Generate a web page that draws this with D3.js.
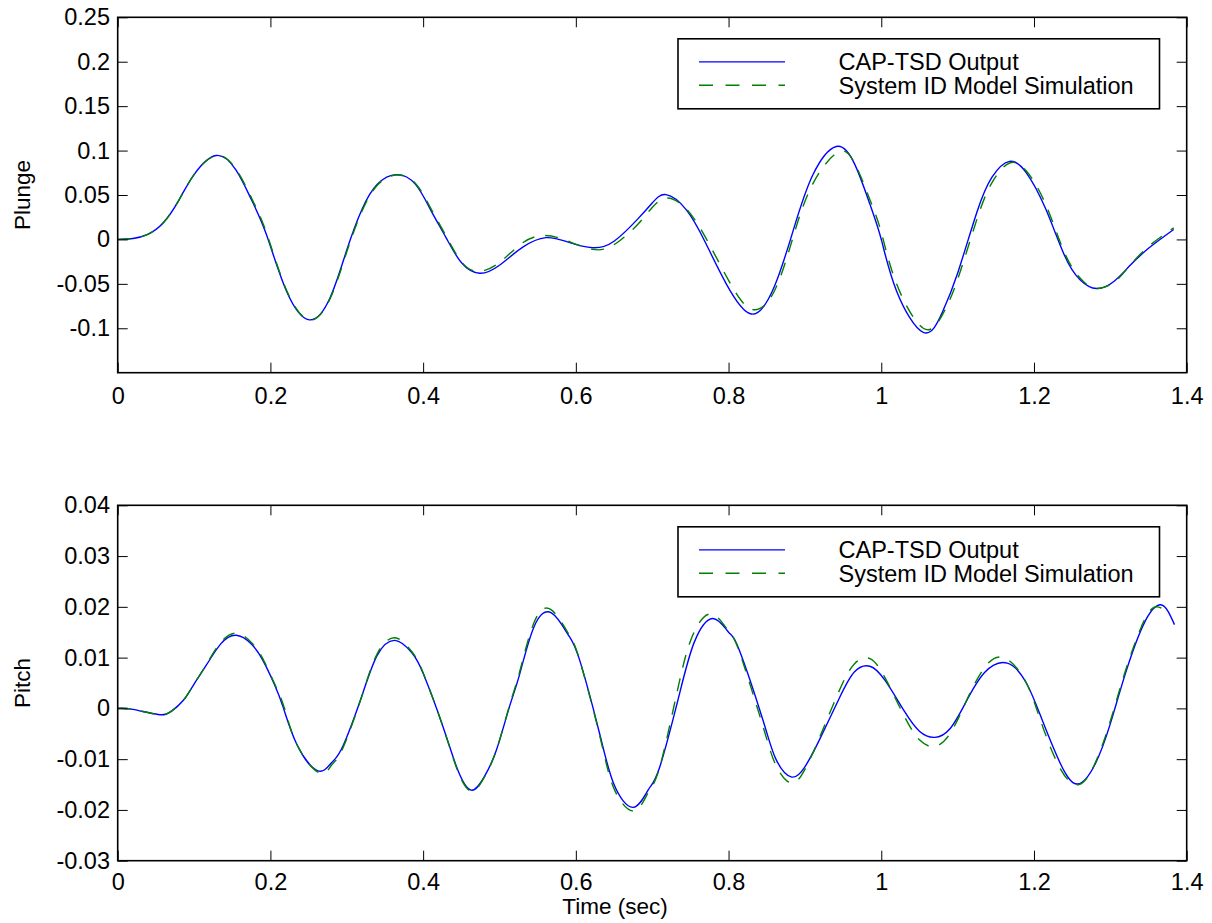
<!DOCTYPE html>
<html>
<head>
<meta charset="utf-8">
<script src="https://cdn.jsdelivr.net/npm/d3@7"></script>
<style>
  html, body { margin: 0; padding: 0; background: #fff; }
  svg { display: block; font-family: "Liberation Sans", Arial, Helvetica, sans-serif; }
</style>
</head>
<body>
<svg id="chart" width="1212" height="923"></svg>
<script>
// ---- Plunge response (time in sec, value) ----
const plungeCapTime = [0, 0.02, 0.04, 0.06, 0.08, 0.10, 0.129, 0.155, 0.175, 0.195, 0.221, 0.251, 0.278, 0.300, 0.320, 0.340, 0.365, 0.390, 0.410, 0.430, 0.450, 0.474, 0.500, 0.530, 0.561, 0.590, 0.622, 0.650, 0.680, 0.700, 0.718, 0.745, 0.770, 0.797, 0.830, 0.860, 0.885, 0.910, 0.941, 0.965, 0.985, 1.000, 1.020, 1.055, 1.080, 1.100, 1.125, 1.145, 1.168, 1.190, 1.215, 1.240, 1.260, 1.282, 1.305, 1.325, 1.350, 1.383];
const plungeCapValue = [0, 0.001, 0.006, 0.019, 0.044, 0.073, 0.0945, 0.078, 0.045, 0.005, -0.058, -0.0905, -0.066, -0.012, 0.034, 0.062, 0.0729, 0.062, 0.033, 0.002, -0.026, -0.038, -0.029, -0.009, 0.002, -0.003, -0.0093, -0.002, 0.022, 0.041, 0.0504, 0.033, -0.004, -0.050, -0.084, -0.053, 0.011, 0.072, 0.1046, 0.085, 0.040, 0.000, -0.058, -0.1046, -0.082, -0.038, 0.030, 0.070, 0.0878, 0.075, 0.035, -0.018, -0.045, -0.0553, -0.047, -0.030, -0.010, 0.0112];

const plungeSimTime = [0, 0.02, 0.04, 0.06, 0.08, 0.10, 0.129, 0.155, 0.175, 0.195, 0.221, 0.251, 0.278, 0.300, 0.320, 0.340, 0.365, 0.390, 0.410, 0.430, 0.450, 0.472, 0.500, 0.530, 0.560, 0.590, 0.622, 0.650, 0.680, 0.700, 0.720, 0.745, 0.770, 0.800, 0.830, 0.860, 0.885, 0.910, 0.943, 0.965, 0.985, 1.000, 1.020, 1.055, 1.080, 1.100, 1.125, 1.145, 1.168, 1.190, 1.215, 1.240, 1.260, 1.280, 1.305, 1.325, 1.350, 1.383];
const plungeSimValue = [0, 0.001, 0.006, 0.019, 0.044, 0.073, 0.0945, 0.079, 0.047, 0.007, -0.057, -0.0905, -0.067, -0.014, 0.032, 0.061, 0.0725, 0.063, 0.035, 0.004, -0.025, -0.036, -0.026, -0.004, 0.0045, -0.002, -0.0112, -0.006, 0.016, 0.036, 0.0467, 0.034, 0.002, -0.046, -0.0785, -0.058, 0.004, 0.062, 0.098, 0.086, 0.045, 0.008, -0.050, -0.100, -0.085, -0.045, 0.022, 0.064, 0.086, 0.077, 0.040, -0.015, -0.043, -0.055, -0.048, -0.030, -0.008, 0.013];

// ---- Pitch response (time in sec, value) ----
const pitchCapTime = [0, 0.02, 0.053, 0.07, 0.086, 0.10, 0.116, 0.135, 0.155, 0.175, 0.190, 0.205, 0.217, 0.235, 0.262, 0.280, 0.295, 0.321, 0.340, 0.363, 0.385, 0.400, 0.426, 0.445, 0.463, 0.480, 0.496, 0.513, 0.526, 0.545, 0.568, 0.590, 0.605, 0.631, 0.650, 0.675, 0.695, 0.710, 0.736, 0.755, 0.779, 0.800, 0.814, 0.845, 0.862, 0.882, 0.900, 0.919, 0.945, 0.965, 0.985, 1.005, 1.030, 1.050, 1.070, 1.090, 1.110, 1.135, 1.165, 1.190, 1.210, 1.235, 1.257, 1.280, 1.300, 1.320, 1.345, 1.365, 1.376, 1.384];
const pitchCapValue = [0, -0.0002, -0.0012, -0.0006, 0.0016, 0.0048, 0.0085, 0.0127, 0.0144, 0.0127, 0.0095, 0.0048, 0.0001, -0.0072, -0.0123, -0.0107, -0.0074, 0.0030, 0.0105, 0.0134, 0.0110, 0.0069, -0.0036, -0.0120, -0.0161, -0.0135, -0.0082, 0.0003, 0.0065, 0.0160, 0.0188, 0.0145, 0.0095, -0.0049, -0.0150, -0.0195, -0.0160, -0.0115, 0.0030, 0.0130, 0.0177, 0.0150, 0.0115, -0.0023, -0.0100, -0.0135, -0.0115, -0.0062, 0.0020, 0.0072, 0.0083, 0.0055, -0.0005, -0.0045, -0.0057, -0.0040, 0.0010, 0.0070, 0.0089, 0.0050, -0.0020, -0.0110, -0.0149, -0.0110, -0.0030, 0.0070, 0.0170, 0.0204, 0.0190, 0.0165];

const pitchSimTime = [0, 0.02, 0.053, 0.07, 0.086, 0.10, 0.116, 0.135, 0.156, 0.175, 0.190, 0.205, 0.218, 0.235, 0.264, 0.280, 0.295, 0.321, 0.340, 0.363, 0.385, 0.400, 0.426, 0.445, 0.463, 0.480, 0.496, 0.513, 0.526, 0.545, 0.567, 0.590, 0.605, 0.631, 0.650, 0.676, 0.695, 0.710, 0.733, 0.752, 0.777, 0.800, 0.814, 0.845, 0.862, 0.882, 0.900, 0.919, 0.945, 0.965, 0.985, 1.005, 1.030, 1.050, 1.070, 1.090, 1.110, 1.135, 1.162, 1.190, 1.210, 1.235, 1.259, 1.280, 1.300, 1.320, 1.345, 1.362, 1.376];
const pitchSimValue = [0, -0.0002, -0.0012, -0.0006, 0.0016, 0.0048, 0.0086, 0.0130, 0.0148, 0.0130, 0.0098, 0.0050, 0.0002, -0.0072, -0.0127, -0.0112, -0.0078, 0.0030, 0.0108, 0.0139, 0.0112, 0.0070, -0.0036, -0.0122, -0.0163, -0.0136, -0.0082, 0.0005, 0.0070, 0.0168, 0.0195, 0.0148, 0.0095, -0.0052, -0.0158, -0.0202, -0.0165, -0.0115, 0.0035, 0.0140, 0.0186, 0.0152, 0.0112, -0.0035, -0.0112, -0.0147, -0.0120, -0.0058, 0.0035, 0.0088, 0.0098, 0.0060, -0.0015, -0.0062, -0.0075, -0.0050, 0.0010, 0.0080, 0.0099, 0.0050, -0.0030, -0.0120, -0.0150, -0.0108, -0.0025, 0.0075, 0.0175, 0.0200, 0.0188];

// ---- Axis ticks and labels ----
const timeTicks = [0, 0.2, 0.4, 0.6, 0.8, 1, 1.2, 1.4];
const timeTickLabels = ["0", "0.2", "0.4", "0.6", "0.8", "1", "1.2", "1.4"];
const plungeTicks = [-0.1, -0.05, 0, 0.05, 0.1, 0.15, 0.2, 0.25];
const plungeTickLabels = ["-0.1", "-0.05", "0", "0.05", "0.1", "0.15", "0.2", "0.25"];
const pitchTicks = [-0.03, -0.02, -0.01, 0, 0.01, 0.02, 0.03, 0.04];
const pitchTickLabels = ["-0.03", "-0.02", "-0.01", "0", "0.01", "0.02", "0.03", "0.04"];
const seriesNames = ["CAP-TSD Output", "System ID Model Simulation"];

const svg = d3.select("#chart");
svg.append("rect").attr("width", 1212).attr("height", 923).attr("fill", "#fff");

const TICK_FONT = 23.5, LEGEND_FONT = 23.5, LABEL_FONT = 22.5;
const left = 117.7, right = 1186.7;

function zip(ts, vs) { return ts.map((t, i) => [t, vs[i]]); }

function panel(cfg) {
  const x = d3.scaleLinear().domain([0, 1.4]).range([left, right]);
  const y = d3.scaleLinear().domain(cfg.yDomain).range([cfg.bottom, cfg.top]);
  const g = svg.append("g");

  const line = d3.line()
    .x(d => x(d[0])).y(d => y(d[1]))
    .curve(d3.curveNatural);

  // measured response and identified-model simulation
  g.append("path").datum(zip(cfg.capT, cfg.capV))
    .attr("d", line).attr("fill", "none")
    .attr("stroke", "#0000ff").attr("stroke-width", 1.4);
  g.append("path").datum(zip(cfg.simT, cfg.simV))
    .attr("d", line).attr("fill", "none")
    .attr("stroke", "#008000").attr("stroke-width", 1.4)
    .attr("stroke-dasharray", "13,11");

  // axes with inward ticks on all four sides
  const axB = d3.axisBottom(x).tickValues(timeTicks)
    .tickFormat((d, i) => timeTickLabels[i]).tickSizeInner(-10).tickSizeOuter(0).tickPadding(cfg.xPad);
  const axT = d3.axisTop(x).tickValues(timeTicks).tickFormat("").tickSizeInner(-10).tickSizeOuter(0);
  const axL = d3.axisLeft(y).tickValues(cfg.yTicks)
    .tickFormat((d, i) => cfg.yLabels[i]).tickSizeInner(-10).tickSizeOuter(0).tickPadding(7.7);
  const axR = d3.axisRight(y).tickValues(cfg.yTicks).tickFormat("").tickSizeInner(-10).tickSizeOuter(0);

  const axes = [
    [axB, `translate(0,${cfg.bottom})`],
    [axT, `translate(0,${cfg.top})`],
    [axL, `translate(${left},0)`],
    [axR, `translate(${right},0)`]
  ];
  axes.forEach(([a, tr]) => {
    const ga = g.append("g").attr("transform", tr).call(a);
    ga.select(".domain").remove();
    ga.selectAll(".tick line").attr("stroke", "#000").attr("stroke-width", 1);
    ga.selectAll(".tick text").attr("fill", "#000")
      .style("font-size", TICK_FONT + "px").style("font-family", "'Liberation Sans', Arial, sans-serif");
  });

  // frame
  g.append("rect")
    .attr("x", left).attr("y", cfg.top)
    .attr("width", right - left).attr("height", cfg.bottom - cfg.top)
    .attr("fill", "none").attr("stroke", "#000").attr("stroke-width", 1.6);

  // y label
  g.append("text")
    .attr("transform", `translate(${cfg.yLabelX},${(cfg.top + cfg.bottom) / 2}) rotate(-90)`)
    .attr("text-anchor", "middle")
    .style("font-size", LABEL_FONT + "px").attr("fill", "#000")
    .text(cfg.yLabel);

  // legend
  const lg = g.append("g");
  const lx0 = 678, lx1 = 1159.5;
  const ly0 = cfg.top + 21.5, ly1 = cfg.top + 91.5;
  lg.append("rect").attr("x", lx0).attr("y", ly0)
    .attr("width", lx1 - lx0).attr("height", ly1 - ly0)
    .attr("fill", "#fff").attr("stroke", "#000").attr("stroke-width", 1.6);
  const rows = [cfg.top + 44.6, cfg.top + 68];
  lg.append("line").attr("x1", 699).attr("x2", 785).attr("y1", rows[0]).attr("y2", rows[0])
    .attr("stroke", "#0000ff").attr("stroke-width", 1.4);
  lg.append("line").attr("x1", 699).attr("x2", 785).attr("y1", rows[1]).attr("y2", rows[1])
    .attr("stroke", "#008000").attr("stroke-width", 1.4).attr("stroke-dasharray", "14,12.5");
  seriesNames.forEach((name, i) => {
    lg.append("text").attr("x", 838.5).attr("y", rows[i]).attr("dy", "0.36em")
      .style("font-size", LEGEND_FONT + "px").attr("fill", "#000").text(name);
  });

  return { x, y };
}

panel({
  top: 17.3, bottom: 372.7, yDomain: [-0.15, 0.25],
  yTicks: plungeTicks, yLabels: plungeTickLabels, yLabel: "Plunge", yLabelX: 30,
  capT: plungeCapTime, capV: plungeCapValue, simT: plungeSimTime, simV: plungeSimValue,
  xPad: 15
});

panel({
  top: 505.3, bottom: 860.7, yDomain: [-0.03, 0.04],
  yTicks: pitchTicks, yLabels: pitchTickLabels, yLabel: "Pitch", yLabelX: 30,
  capT: pitchCapTime, capV: pitchCapValue, simT: pitchSimTime, simV: pitchSimValue,
  xPad: 12.5
});

svg.append("text")
  .attr("x", 615).attr("y", 914)
  .attr("text-anchor", "middle")
  .style("font-size", LABEL_FONT + "px").attr("fill", "#000")
  .text("Time (sec)");
</script>
</body>
</html>
